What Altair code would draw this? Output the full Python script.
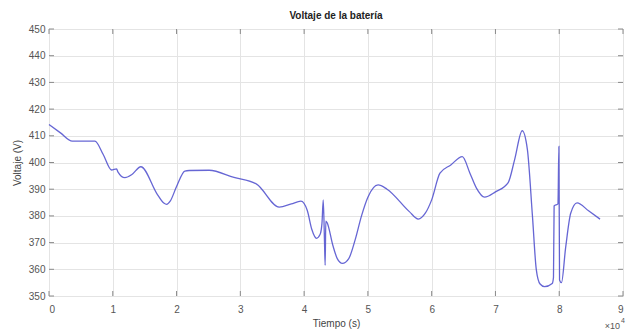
import altair as alt
import pandas as pd

# Time (s) and battery voltage (V)
t = [0, 1800, 3650, 5400, 7200, 8500, 9800, 10600, 10800, 11900, 13000, 14400, 17000, 18000,
     18450, 19000, 20000, 21300, 22000, 25100, 29000, 32550, 36100, 38000, 39500, 40500, 41200,
     41950, 42500, 42800, 43000, 43200, 43300, 43400, 43600, 44500, 45200, 46000,
     47000, 48000, 49000, 50000, 51600, 53000, 56500, 57900, 59000, 60000, 61300,
     63000, 64800, 66000, 67000, 68300, 70000, 72000, 73000, 74200, 75000, 75800, 76400,
     77000, 77700, 78900, 79100, 79200, 79800, 79950, 80050, 80350, 81000, 81800,
     82800, 84600, 86400]
v = [414.2, 411.1, 408.0, 408.0, 408.0, 403.0, 397.2, 397.6, 396.5, 394.3, 395.5, 398.4, 388.0, 384.8,
     384.3, 385.5, 391.0, 396.8, 397.0, 397.1, 394.4, 391.9, 383.3, 384.5, 385.5, 382.0, 375.0,
     371.6, 373.0, 377.2, 386.0, 370.0, 361.5, 378.0, 377.5, 369.0, 364.0, 362.2,
     364.0, 371.0, 380.0, 387.0, 391.6, 390.0, 381.6, 378.8, 381.0, 386.0, 396.0,
     399.1, 402.2, 396.0, 390.5, 387.0, 389.0, 392.5, 401.0, 411.9, 405.0, 380.0, 360.0,
     354.5, 353.5, 354.7, 357.0, 383.7, 384.5, 406.0, 356.0, 355.0, 368.0, 381.0,
     384.9, 381.9, 378.8]

x_ticks = [0, 10000, 20000, 30000, 40000, 50000, 60000, 70000, 80000, 90000]
y_ticks = [350, 360, 370, 380, 390, 400, 410, 420, 430, 440, 450]

W, H = 574, 267
FONT = "Liberation Sans Narrow, Liberation Sans, Arial, sans-serif"
AX = "#8a8a8a"

df = pd.DataFrame({"t": t, "v": v, "i": range(len(t))})

xs = alt.Scale(domain=[0, 90000], nice=False)
ys = alt.Scale(domain=[350, 450], nice=False)

x_axis = alt.Axis(
    values=x_ticks, labelExpr="datum.value / 10000", title="Tiempo (s)",
    grid=True, gridColor="#e4e4e4", domain=False, ticks=False, labelOverlap=False,
    labelPadding=8, labelFontSize=10, labelColor="#555", labelFont=FONT,
    titleFont=FONT, titleFontSize=10, titleFontWeight="normal", titleColor="#444",
    titlePadding=4)
y_axis = alt.Axis(
    values=y_ticks, title="Voltaje (V)",
    grid=True, gridColor="#e4e4e4", domain=False, ticks=False, labelOverlap=False,
    labelPadding=4, labelFontSize=10, labelColor="#555", labelFont=FONT,
    titleFont=FONT, titleFontSize=10, titleFontWeight="normal", titleColor="#444",
    titlePadding=6)

line = alt.Chart(df).mark_line(color="#4b4bcc", strokeWidth=1.3, opacity=0.85,
                               interpolate="monotone").encode(
    x=alt.X("t:Q", scale=xs, axis=x_axis),
    y=alt.Y("v:Q", scale=ys, axis=y_axis),
    order="i:Q",
)

xt = pd.DataFrame({"t": x_ticks})
yt = pd.DataFrame({"v": y_ticks})

bottom_ticks = alt.Chart(xt).mark_rule(color=AX, strokeWidth=1).encode(
    x=alt.X("t:Q", scale=xs, axis=x_axis), y=alt.value(H), y2=alt.value(H - 5))
top_ticks = alt.Chart(xt).mark_rule(color=AX, strokeWidth=1).encode(
    x=alt.X("t:Q", scale=xs, axis=x_axis), y=alt.value(0), y2=alt.value(5))
left_ticks = alt.Chart(yt).mark_rule(color=AX, strokeWidth=1).encode(
    y=alt.Y("v:Q", scale=ys, axis=y_axis), x=alt.value(0), x2=alt.value(5))
right_ticks = alt.Chart(yt).mark_rule(color=AX, strokeWidth=1).encode(
    y=alt.Y("v:Q", scale=ys, axis=y_axis), x=alt.value(W), x2=alt.value(W - 5))

exp_base = alt.Chart(pd.DataFrame({"s": ["×10"]})).mark_text(
    font=FONT, fontSize=9, color="#555", align="right", baseline="middle").encode(
    text="s:N", x=alt.value(W - 3), y=alt.value(H + 30))
exp_pow = alt.Chart(pd.DataFrame({"s": ["4"]})).mark_text(
    font=FONT, fontSize=7, color="#555", align="left", baseline="middle").encode(
    text="s:N", x=alt.value(W - 2), y=alt.value(H + 25))

chart = alt.layer(line, bottom_ticks, top_ticks, left_ticks, right_ticks,
                  exp_base, exp_pow).properties(
    width=W, height=H,
    title=alt.TitleParams("Voltaje de la batería", font=FONT, fontSize=10,
                          fontWeight="bold", color="#222", offset=3),
    padding={"left": 49, "top": 29, "right": 20, "bottom": 36},
    autosize=alt.AutoSizeParams(type="none"),
).configure_view(stroke=AX, strokeWidth=1.6).configure(background="white")

chart.save("out.html", embed_options={"renderer": "svg", "actions": False})
